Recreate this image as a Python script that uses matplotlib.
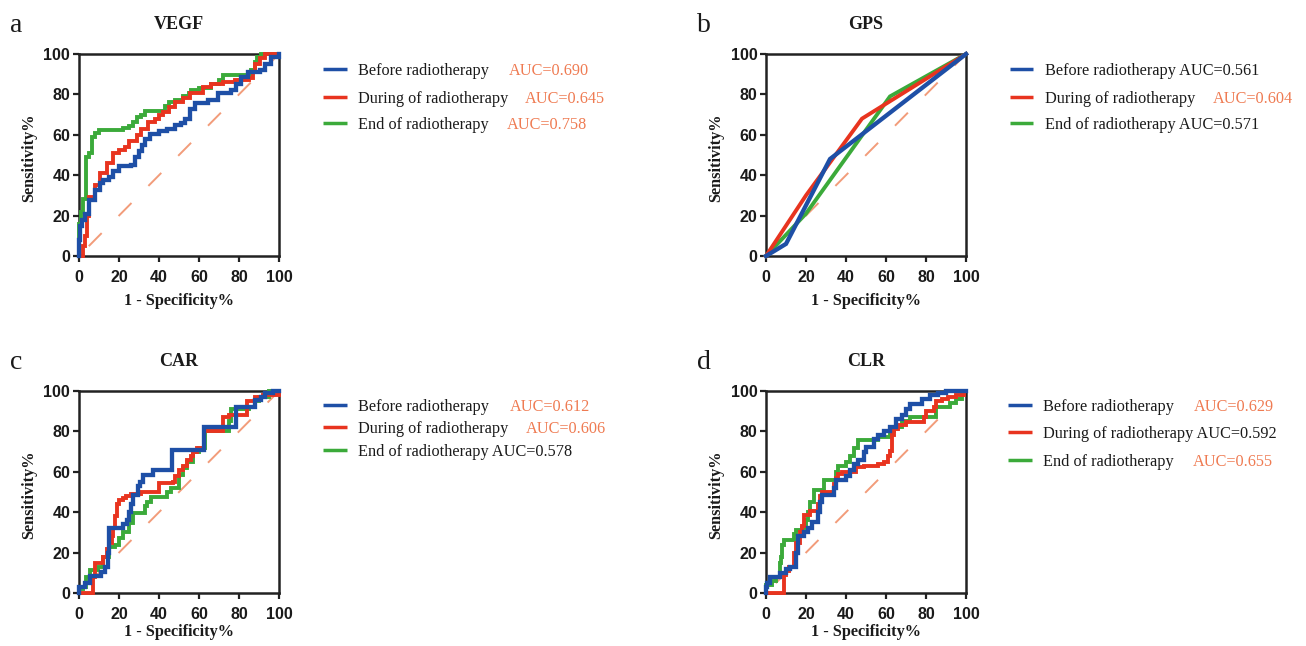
import matplotlib
matplotlib.use("Agg")
import matplotlib.pyplot as plt

W, H = 1306, 646
plt.rcParams['lines.scale_dashes'] = False

SERIF = 'Liberation Serif'
SANS = 'Liberation Sans'

BLUE = '#1E4FA6'
RED = '#E8341F'
GREEN = '#3BAA3A'
REF = '#F29C7A'
AUC_COLOR = '#EF7B52'
TEXT = '#1A1A1A'

series_names = ['Before radiotherapy', 'During of radiotherapy', 'End of radiotherapy']
series_colors = [BLUE, RED, GREEN]

# ---- VEGF (step ROC curves, 1 - specificity % vs sensitivity %) ----
vegf_before_x = [0, 0, 0.5, 1.5, 3, 5, 8, 10.5, 12, 15, 17, 20, 26, 28, 30, 31.5, 33, 35.5, 40, 44,
                 48, 51, 53, 55.5, 58, 64.5, 69.5, 76, 78.5, 81, 84.5, 90.5, 93, 96, 100]
vegf_before_y = [0, 8, 15, 18, 21, 27.5, 32.5, 36, 37.5, 39, 42, 44.5, 45, 49, 52, 55, 58, 60.5, 62, 63,
                 65, 66, 68, 73, 75.5, 77, 80.5, 82, 85, 88.5, 91, 92, 95, 98.5, 100]
vegf_during_x = [0, 1, 2, 3, 4, 5, 8, 10.5, 14, 17, 20, 23, 25, 29, 31, 34.5, 38, 40, 42, 45, 48, 52,
                 55.5, 62, 66, 72, 78, 85, 87, 88, 90.5, 93, 100]
vegf_during_y = [0, 0, 5, 10, 20, 29, 35, 41, 46, 51, 52.5, 54, 57, 60, 63, 66.5, 68, 70, 71.5, 74, 76, 78,
                 80.5, 83.5, 85, 86, 87, 88, 91, 95, 98, 100, 100]
vegf_end_x = [0, 0, 1, 2, 3.5, 5, 6.5, 8, 10, 22, 25, 27, 29, 31, 33, 43, 45, 48, 52, 55, 56, 60, 66,
              70, 72, 86, 88, 89, 91, 100]
vegf_end_y = [0, 16, 22, 28, 49, 51, 59, 61, 62.5, 63.5, 64.5, 66.5, 69, 70, 72, 74.5, 76, 77, 79, 80.5,
              82, 83, 85, 87, 89.5, 92, 96, 98.5, 100, 100]
vegf_auc = ['0.690', '0.645', '0.758']

# ---- GPS (few cut-offs, polyline ROC curves) ----
gps_before_x = [0, 10, 32, 100]
gps_before_y = [0, 6, 48, 100]
gps_during_x = [0, 20, 48, 100]
gps_during_y = [0, 30, 68, 100]
gps_end_x = [0, 20, 62, 100]
gps_end_y = [0, 21, 79, 100]
gps_auc = ['0.561', '0.604', '0.571']

# ---- CAR ----
car_before_x = [0, 0, 3, 5.5, 11, 13, 14.5, 15, 22, 24, 25, 26, 27, 29.5, 30.5, 32, 37, 46.5, 62.5,
                78.5, 88, 91, 93, 97, 100]
car_before_y = [0, 3, 5, 8.5, 10.5, 13, 20, 32, 34, 36, 40, 44, 48.5, 53, 55, 58.5, 61, 71, 82,
                92, 95.5, 97, 99, 100, 100]
car_during_x = [0, 6.5, 7, 8, 10.5, 12, 14, 15, 16.5, 17, 18, 19, 20, 22, 23.5, 26, 31, 40, 47, 48,
                50, 52, 54, 56, 57, 59, 62.5, 72, 75, 78, 84, 88, 92, 100]
car_during_y = [0, 0, 8, 15, 15, 18, 22, 25, 28, 32, 38, 44, 46, 47, 48, 49, 50, 54.5, 55, 58,
                61, 63, 66, 68, 70, 72, 80, 87, 88, 88, 95, 97, 98, 100]
car_end_x = [0, 0, 2, 3.5, 5.5, 9.5, 12, 15, 18, 20, 22, 25, 27, 32, 33, 34, 36, 42, 44, 46, 50, 52,
             54, 57, 60, 63, 75, 76, 82, 85, 88, 90, 95, 100]
car_end_y = [0, 2, 3, 8, 11.5, 13, 18, 23, 24, 27, 30, 34.5, 39.5, 39.5, 43, 45, 47.5, 47.5, 50, 52,
             58.5, 62, 65, 70, 72, 80, 85, 91, 91, 92, 95, 97, 100, 100]
car_auc = ['0.612', '0.606', '0.578']

# ---- CLR ----
clr_before_x = [0, 0, 0.5, 2, 7, 8, 10, 12, 14, 15, 16, 19, 21, 23, 26, 27, 28, 34, 35, 36, 40, 42,
                44, 46, 49, 50, 54, 56, 59, 62, 65, 68, 70, 72, 78, 82, 86, 90, 100]
clr_before_y = [0, 3, 5, 8, 10, 10, 12, 13, 13, 20, 28, 30, 32, 35, 40, 45, 48.5, 52, 56, 56, 58, 61,
                64, 66, 70, 72.5, 76, 78, 80, 82, 86, 88, 91, 93.5, 96, 98, 99, 100, 100]
clr_during_x = [0, 9, 10, 11.5, 14, 15, 17, 18, 19, 22, 26, 27, 28, 30, 34, 35, 36, 38, 42, 45, 49,
                56, 59, 61, 62, 63, 64, 66, 70, 79, 80, 81, 84, 85, 88, 91, 95, 99, 100]
clr_during_y = [0, 9, 11, 13, 20, 25, 30, 33, 38.5, 40.5, 44, 48, 50, 50, 54, 57, 59, 60, 60, 62.5, 63,
                64, 65, 68, 70.5, 78, 81, 83, 84.5, 87, 90, 90, 92, 95, 96, 97, 98, 100, 100]
clr_end_x = [0, 0, 3, 5, 7, 7.5, 8, 9, 14, 15, 18, 20, 21, 22, 24, 29, 35, 36, 40, 42, 44, 46, 56,
             62, 64, 68, 72, 85, 92, 95, 98, 100]
clr_end_y = [0, 4, 6, 8, 15, 18, 24, 26, 29, 31, 32, 36, 40, 45, 51, 56, 60, 63, 65, 68, 72, 75.5, 77,
             80, 82, 85, 87, 92, 94, 96, 100, 100]
clr_auc = ['0.629', '0.592', '0.655']

ticks = [0, 20, 40, 60, 80, 100]

fig = plt.figure(figsize=(W / 100, H / 100), dpi=100)
fig.patch.set_facecolor('white')


def fx(px):
    return px / W


def fy(py):
    return 1 - py / H


panels = [
    dict(letter='a', title='VEGF', box=(79, 54, 279, 256), steps=True, xlab_off=49,
         curves=[(vegf_before_x, vegf_before_y), (vegf_during_x, vegf_during_y), (vegf_end_x, vegf_end_y)],
         auc=vegf_auc, auc_inline=[False, False, False],
         leg_x=(323, 347, 358), rows=(69, 97, 123), auc_x=(509, 525, 507)),
    dict(letter='b', title='GPS', box=(766, 54, 966, 256), steps=False, xlab_off=49,
         curves=[(gps_before_x, gps_before_y), (gps_during_x, gps_during_y), (gps_end_x, gps_end_y)],
         auc=gps_auc, auc_inline=[True, False, True],
         leg_x=(1010, 1033, 1045), rows=(69, 97, 123), auc_x=(None, 1213, None)),
    dict(letter='c', title='CAR', box=(79, 391, 279, 593), steps=True, xlab_off=43,
         curves=[(car_before_x, car_before_y), (car_during_x, car_during_y), (car_end_x, car_end_y)],
         auc=car_auc, auc_inline=[False, False, True],
         leg_x=(323, 347, 358), rows=(405, 427, 450), auc_x=(510, 526, None)),
    dict(letter='d', title='CLR', box=(766, 391, 966, 593), steps=True, xlab_off=43,
         curves=[(clr_before_x, clr_before_y), (clr_during_x, clr_during_y), (clr_end_x, clr_end_y)],
         auc=clr_auc, auc_inline=[False, True, False],
         leg_x=(1008, 1032, 1043), rows=(405, 432, 460), auc_x=(1194, None, 1193)),
]

for p in panels:
    l, t, r, b = p['box']
    ax = fig.add_axes([fx(l), fy(b), (r - l) / W, (b - t) / H])
    ax.set_xlim(0, 100)
    ax.set_ylim(0, 100)

    # chance line
    ax.plot([0, 100], [0, 100], color=REF, lw=1.4,
            linestyle=(20.5, (13.2, 17.3)), zorder=1, solid_capstyle='butt')

    # draw End, During, Before so that Before sits on top
    for idx in (2, 1, 0):
        xs, ys = p['curves'][idx]
        lw = 3.1 if idx == 0 else 2.8
        ax.plot(xs, ys, color=series_colors[idx], lw=lw, clip_on=False,
                drawstyle='steps-post' if p['steps'] else 'default',
                solid_joinstyle='miter', zorder=3 + (2 - idx))

    ax.set_xticks(ticks)
    ax.set_yticks(ticks)
    ax.tick_params(direction='out', length=4.3, width=1.6, color='#222222', labelsize=11.5)
    ax.tick_params(axis='x', pad=6)
    ax.tick_params(axis='y', pad=2)
    for lab in ax.get_xticklabels() + ax.get_yticklabels():
        lab.set_fontfamily(SANS)
        lab.set_fontweight('bold')
        lab.set_color(TEXT)
    for s in ax.spines.values():
        s.set_linewidth(1.8)
        s.set_color('#222222')

    cx = (l + r) / 2
    fig.text(fx(cx), fy(t - 25), p['title'], ha='center', va='baseline',
             fontfamily=SERIF, fontweight='bold', fontsize=13, color=TEXT)
    fig.text(fx(l - 69), fy(t - 22), p['letter'], ha='left', va='baseline',
             fontfamily=SERIF, fontsize=20, color=TEXT)
    fig.text(fx(cx), fy(b + p['xlab_off']), '1 - Specificity%', ha='center', va='baseline',
             fontfamily=SERIF, fontweight='bold', fontsize=11.7, color=TEXT)
    fig.text(fx(l - 50), fy((t + b) / 2 + 3), 'Sensitivity%', ha='center', va='center',
             rotation=90, fontfamily=SERIF, fontweight='bold', fontsize=11.7, color=TEXT)

    # legend
    hx0, hx1, tx = p['leg_x']
    for i in range(3):
        ry = p['rows'][i]
        fig.add_artist(plt.Line2D([fx(hx0), fx(hx1)], [fy(ry), fy(ry)],
                                  color=series_colors[i], lw=2.5, solid_capstyle='butt'))
        label = series_names[i]
        if p['auc_inline'][i]:
            label = f"{label} AUC={p['auc'][i]}"
        fig.text(fx(tx), fy(ry), label, ha='left', va='center_baseline',
                 fontfamily=SERIF, fontsize=11.7, color=TEXT)
        if not p['auc_inline'][i]:
            fig.text(fx(p['auc_x'][i]), fy(ry), f"AUC={p['auc'][i]}", ha='left',
                     va='center_baseline', fontfamily=SERIF, fontsize=11.7, color=AUC_COLOR)

fig.savefig('out.png', dpi=100, facecolor='white')
